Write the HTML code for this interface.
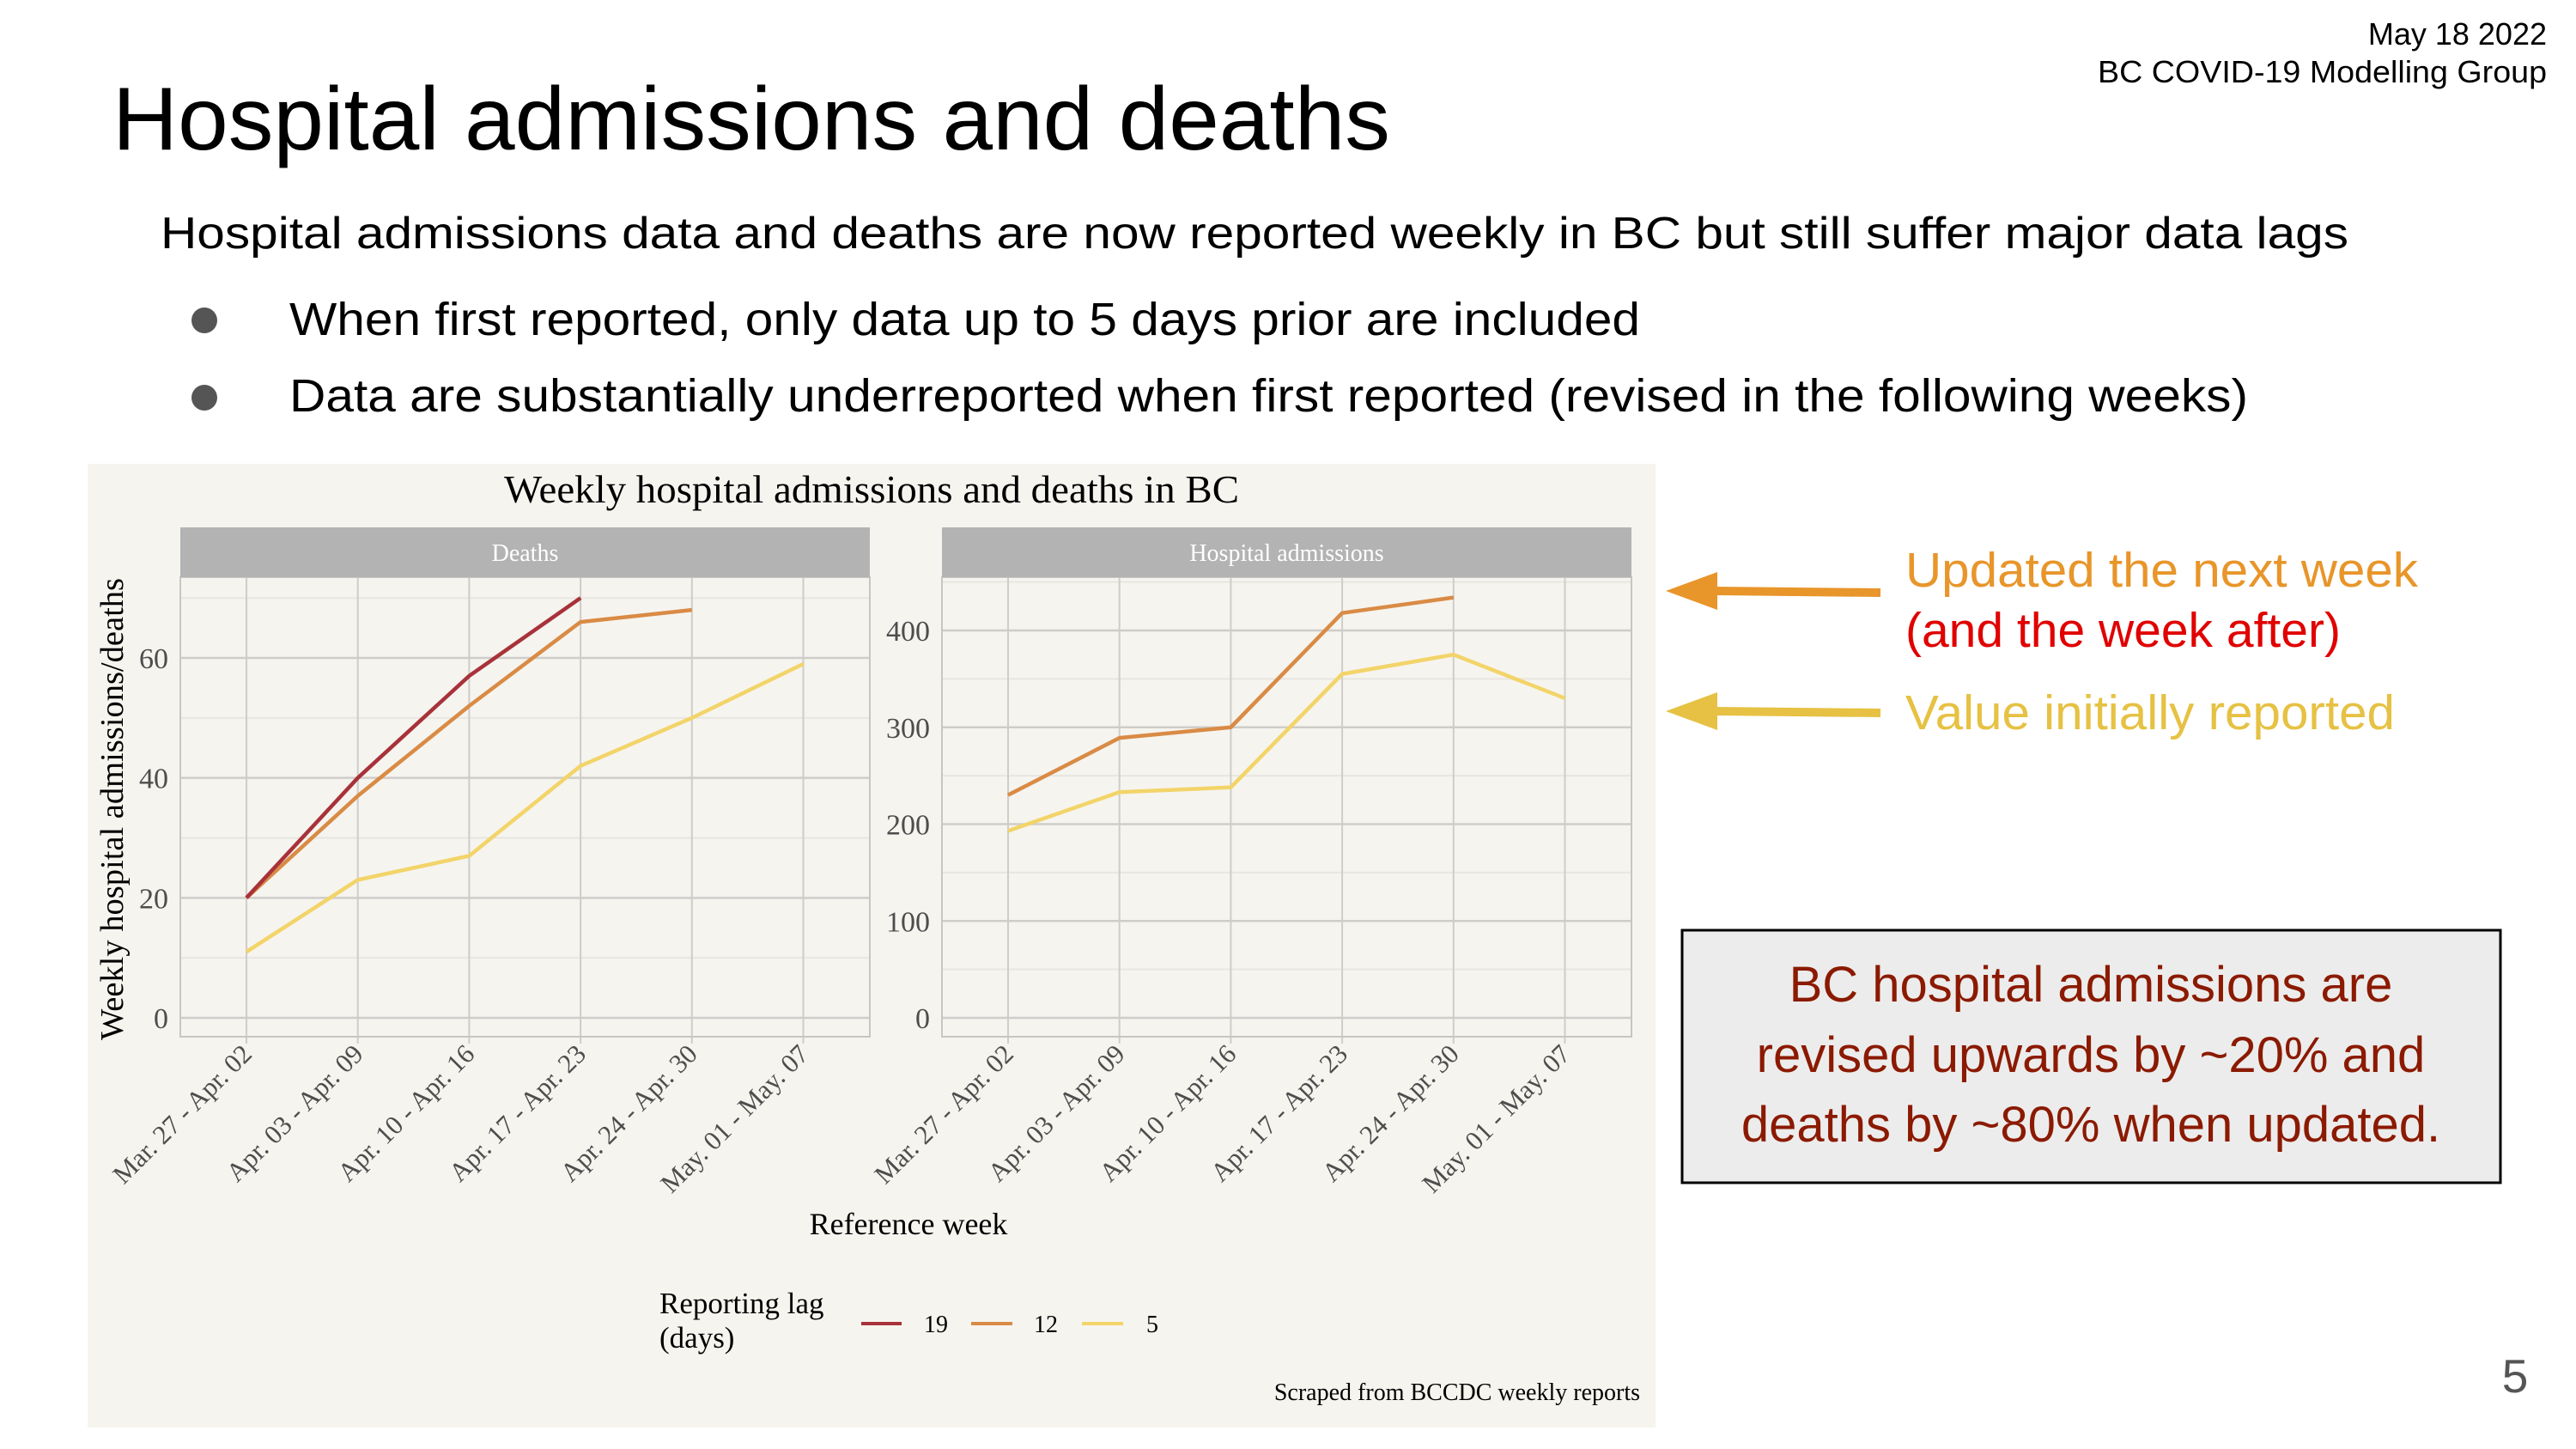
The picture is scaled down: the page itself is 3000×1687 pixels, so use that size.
<!DOCTYPE html>
<html><head><meta charset="utf-8">
<style>
html,body{margin:0;padding:0;background:#fff;}
svg{display:block;}
.sans{font-family:"Liberation Sans",sans-serif;}
.serif{font-family:"Liberation Serif",serif;}
</style></head>
<body>
<svg id="root" width="3000" height="1687" viewBox="0 0 3000 1687" xmlns="http://www.w3.org/2000/svg">
  <text class="sans" x="2966" y="52" font-size="36" text-anchor="end">May 18 2022</text>
  <text class="sans" x="2966" y="96" font-size="36" text-anchor="end" textLength="523" lengthAdjust="spacingAndGlyphs">BC COVID-19 Modelling Group</text>
  <text class="sans" x="131" y="174" font-size="104" textLength="1488" lengthAdjust="spacingAndGlyphs">Hospital admissions and deaths</text>
  <text class="sans" x="187" y="289" font-size="52" textLength="2548" lengthAdjust="spacingAndGlyphs">Hospital admissions data and deaths are now reported weekly in BC but still suffer major data lags</text>
  <circle cx="238" cy="373" r="15" fill="#555"/>
  <text class="sans" x="337" y="390" font-size="54" textLength="1573" lengthAdjust="spacingAndGlyphs">When first reported, only data up to 5 days prior are included</text>
  <circle cx="238" cy="463" r="15" fill="#555"/>
  <text class="sans" x="337" y="479" font-size="54" textLength="2281" lengthAdjust="spacingAndGlyphs">Data are substantially underreported when first reported (revised in the following weeks)</text>

  <g id="chart">
    <rect x="102" y="540" width="1826" height="1122" fill="#f6f4ef"/>
    <text class="serif" x="1015" y="585" font-size="46" text-anchor="middle" textLength="856" lengthAdjust="spacingAndGlyphs">Weekly hospital admissions and deaths in BC</text>
    <text class="serif" transform="translate(143,942) rotate(-90)" font-size="38" text-anchor="middle" textLength="538" lengthAdjust="spacingAndGlyphs">Weekly hospital admissions/deaths</text>
    <text class="serif" x="1058" y="1437" font-size="36" text-anchor="middle">Reference week</text>
    <text class="serif" x="1910" y="1630" font-size="28" text-anchor="end">Scraped from BCCDC weekly reports</text>
    <g>
      <text class="serif" x="768" y="1529" font-size="35">Reporting lag</text>
      <text class="serif" x="768" y="1569" font-size="35">(days)</text>
      <line x1="1003" y1="1541" x2="1050" y2="1541" stroke="#a8323a" stroke-width="4"/>
      <text class="serif" x="1076" y="1551" font-size="28">19</text>
      <line x1="1131" y1="1541" x2="1179" y2="1541" stroke="#d98b45" stroke-width="4"/>
      <text class="serif" x="1204" y="1551" font-size="28">12</text>
      <line x1="1260" y1="1541" x2="1308" y2="1541" stroke="#f2d469" stroke-width="4"/>
      <text class="serif" x="1335" y="1551" font-size="28">5</text>
    </g>
  </g>

  <g>
    <line x1="1995" y1="688" x2="2190" y2="690" stroke="#e8952a" stroke-width="10"/>
    <polygon points="1940,688 2000,666 2000,710" fill="#e8952a"/>
    <line x1="1995" y1="828" x2="2190" y2="830" stroke="#e6c143" stroke-width="10"/>
    <polygon points="1940,828 2000,806 2000,850" fill="#e6c143"/>
    <text class="sans" x="2219" y="683" font-size="57" fill="#e8952a" textLength="597" lengthAdjust="spacingAndGlyphs">Updated the next week</text>
    <text class="sans" x="2219" y="753" font-size="57" fill="#e00000">(and the week after)</text>
    <text class="sans" x="2219" y="849" font-size="57" fill="#e6c143" textLength="570" lengthAdjust="spacingAndGlyphs">Value initially reported</text>
    <rect x="1959" y="1083" width="953" height="294" fill="#ececec" stroke="#000" stroke-width="3"/>
    <g class="sans" font-size="58" fill="#8b1a00" text-anchor="middle">
      <text x="2435" y="1166">BC hospital admissions are</text>
      <text x="2435" y="1248">revised upwards by ~20% and</text>
      <text x="2435" y="1329">deaths by ~80% when updated.</text>
    </g>
    <text class="sans" x="2929" y="1621" font-size="55" fill="#555" text-anchor="middle">5</text>
  </g>
</svg>
<script>
const weeks = ["Mar. 27 - Apr. 02","Apr. 03 - Apr. 09","Apr. 10 - Apr. 16","Apr. 17 - Apr. 23","Apr. 24 - Apr. 30","May. 01 - May. 07"];
const lags = ["19","12","5"];
const deaths19 = [20,40,57,70];
const deaths12 = [20,37,52,66,68];
const deaths5 = [11,23,27,42,50,59];
const admits12 = [230,289,300,418,434];
const admits5 = [193,233,238,355,375,330];
const deathTicks = [0,20,40,60];
const admitTicks = [0,100,200,300,400];

const NS = "http://www.w3.org/2000/svg";
const chart = document.getElementById('chart');
const colors = {"19":"#a8323a","12":"#d98b45","5":"#f2d469"};
function mk(tag, attrs, parent){const e=document.createElementNS(NS,tag);for(const k in attrs)e.setAttribute(k,attrs[k]);(parent||chart).appendChild(e);return e;}

function panel(opt){
  const g = mk('g',{});
  
  
  const top=672, bot=1207;
  const x0=opt.x0, x1=opt.x1;
  const xStep=129.7;
  const xs = i => opt.firstX + i*xStep;
  const ys = v => opt.zeroY - v*opt.pxPer;
  mk('rect',{x:x0,y:top,width:x1-x0,height:bot-top,fill:'#f6f4ef'},g);
  for(let i=0;i<opt.ticks.length;i++){
    const v = opt.ticks[i] + opt.minorStep;
    const y = ys(v);
    if(y>top){const m=mk('line',{x1:x0,x2:x1,y1:y,y2:y,stroke:'#e8e6e1','stroke-width':2},g);
      
      }
  }
  opt.ticks.forEach(t=>{
    const y=ys(t);
    const l=mk('line',{x1:x0,x2:x1,y1:y,y2:y,stroke:'#cfcdc9','stroke-width':2.5},g);
    
    
    const tl=mk('text',{x:x0-14,y:y+12,'font-size':34,'text-anchor':'end',fill:'#4d4d4d','font-family':'Liberation Serif, serif'},g);
    tl.textContent=t;
    
    
  });
  weeks.forEach((w,i)=>{
    const x=xs(i);
    const l=mk('line',{x1:x,x2:x,y1:top,y2:bot+8,stroke:'#cfcdc9','stroke-width':2},g);
    
    
    const tl=mk('text',{transform:`translate(${x+8},${bot+22}) rotate(-45)`,'font-size':31,'text-anchor':'end',fill:'#4d4d4d','font-family':'Liberation Serif, serif'},g);
    tl.textContent=w;
    
    
  });
  mk('rect',{x:x0,y:top,width:x1-x0,height:bot-top,fill:'none',stroke:'#c8c6c2','stroke-width':2},g);
  const s=mk('rect',{x:x0,y:614,width:x1-x0,height:58,fill:'#b3b3b3'},g);
  
  
  const st=mk('text',{x:(x0+x1)/2,y:653,'font-size':28,'text-anchor':'middle',fill:'#fff','font-family':'Liberation Serif, serif'},g);
  st.textContent=opt.label;
  
  
  opt.series.forEach(([lag,vals])=>{
    const pts=vals.map((v,i)=>xs(i)+','+ys(v)).join(' ');
    const p=mk('polyline',{points:pts,fill:'none',stroke:colors[lag],'stroke-width':4.5,'stroke-linejoin':'round'},g);
    
    
  });
}
panel({name:'deaths-panel',label:'Deaths',x0:210,x1:1013,firstX:287,zeroY:1185,pxPer:6.983,ticks:deathTicks,minorStep:10,
  series:[["5",deaths5],["12",deaths12],["19",deaths19]]});
panel({name:'admissions-panel',label:'Hospital admissions',x0:1097,x1:1900,firstX:1174,zeroY:1185,pxPer:1.1275,ticks:admitTicks,minorStep:50,
  series:[["5",admits5],["12",admits12]]});
</script>
</body></html>
